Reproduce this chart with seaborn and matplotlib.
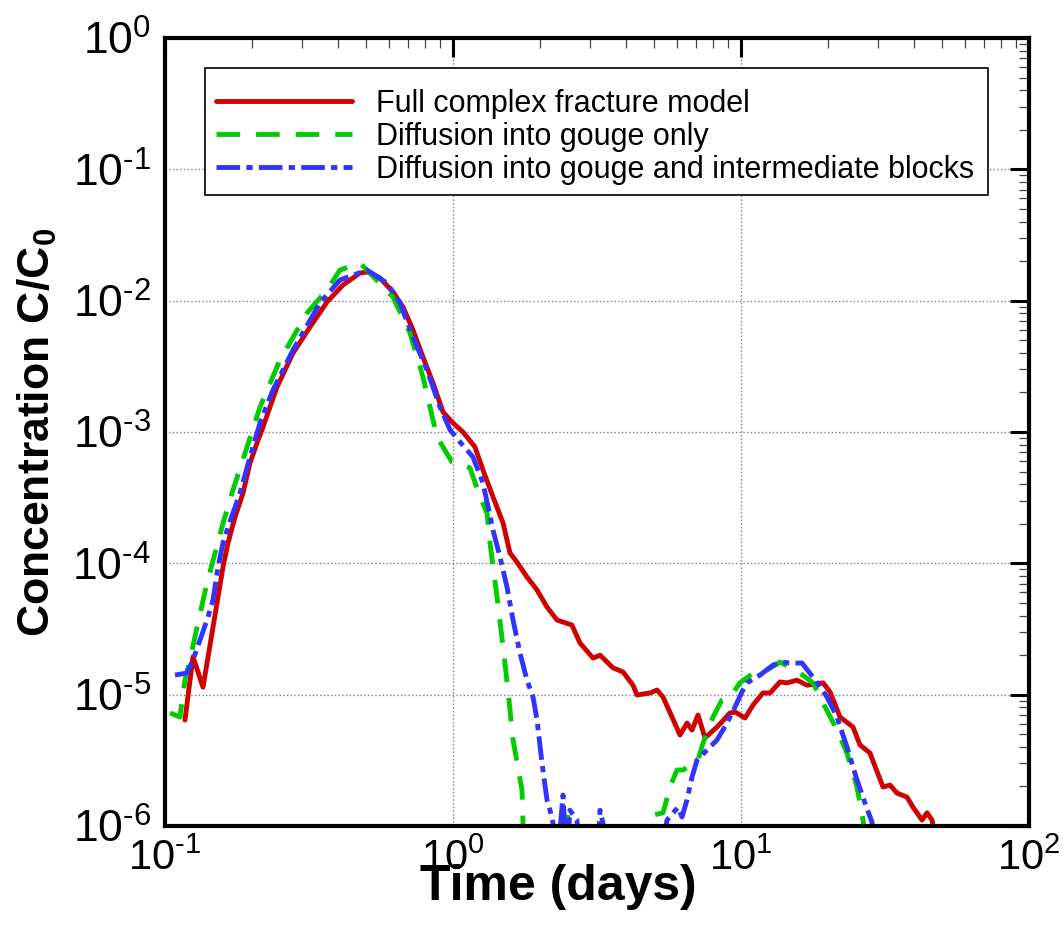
import numpy as np
import pandas as pd
import matplotlib
matplotlib.use("Agg")
import matplotlib.pyplot as plt
import seaborn as sns
from matplotlib.ticker import LogLocator, NullFormatter, FuncFormatter

# ---------------- data ----------------
full_t = [0.1173, 0.1251, 0.1355, 0.1468, 0.1590, 0.1655, 0.1750, 0.1866, 0.1973, 0.2087,
          0.2189, 0.2448, 0.2783, 0.3188, 0.3652, 0.4150, 0.4753, 0.5068, 0.5578, 0.6189,
          0.6705, 0.7262, 0.7866, 0.8524, 0.9232, 1.000, 1.083, 1.192, 1.271, 1.377,
          1.492, 1.577, 1.668, 1.807, 1.958, 2.120, 2.297, 2.588, 2.761, 3.064,
          3.239, 3.594, 3.893, 4.217, 4.355, 4.831, 5.109, 5.360, 5.760, 6.140,
          6.494, 6.760, 7.092, 7.499, 8.254, 9.158, 9.532, 10.33, 11.01, 11.92,
          12.61, 13.66, 14.45, 15.64, 16.95, 19.27, 20.37, 22.07, 24.48, 25.89,
          28.05, 31.12, 32.92, 34.81, 37.71, 39.56, 42.52, 44.25, 46.06, 49.09]
full_c = [6.41e-6, 1.94e-5, 1.14e-5, 3.27e-5, 9.38e-5, 1.43e-4, 2.25e-4, 3.43e-4, 5.80e-4, 8.24e-4,
          1.09e-3, 2.20e-3, 3.99e-3, 6.30e-3, 9.77e-3, 1.316e-2, 1.624e-2, 1.653e-2, 1.488e-2, 1.164e-2,
          8.95e-3, 5.98e-3, 3.72e-3, 2.36e-3, 1.42e-3, 1.17e-3, 1.00e-3, 7.69e-4, 5.14e-4, 3.20e-4,
          2.03e-4, 1.20e-4, 1.02e-4, 7.87e-5, 6.26e-5, 4.65e-5, 3.70e-5, 3.39e-5, 2.47e-5, 1.90e-5,
          2.00e-5, 1.60e-5, 1.49e-5, 1.18e-5, 9.94e-6, 1.03e-5, 1.085e-5, 9.60e-6, 6.76e-6, 4.93e-6,
          6.08e-6, 5.38e-6, 7.00e-6, 4.68e-6, 5.67e-6, 7.25e-6, 7.38e-6, 6.64e-6, 8.34e-6, 1.03e-5,
          1.03e-5, 1.25e-5, 1.23e-5, 1.29e-5, 1.18e-5, 1.23e-5, 1.05e-5, 6.76e-6, 5.67e-6, 4.14e-6,
          3.59e-6, 1.98e-6, 2.05e-6, 1.78e-6, 1.66e-6, 1.39e-6, 1.11e-6, 1.26e-6, 1.11e-6, 5.0e-7]

gouge_t = [0.1041, 0.1127, 0.1173, 0.1221, 0.1292, 0.1399, 0.1577, 0.1708, 0.1927, 0.2137,
           0.2506, 0.3112, 0.3652, 0.4052, 0.4753, 0.6189, 0.7090, 0.7866, 0.8799, 0.9920,
           1.0575, 1.146, 1.241, 1.313, 1.344, 1.422, 1.492, 1.552, 1.616, 1.736,
           1.750, 1.807, 2.45, 2.506, 2.56, 3.38, 3.425, 3.47, 4.60, 4.717,
           4.948, 5.360, 5.669, 5.995, 6.289, 7.092, 7.382, 7.994, 8.590, 9.158,
           9.920, 11.01, 12.31, 13.66, 14.80, 16.03, 17.78, 19.27, 21.54, 23.34,
           25.28, 26.52, 27.5]
gouge_c = [7.25e-6, 6.76e-6, 1.29e-5, 1.84e-5, 3.27e-5, 7.08e-5, 1.89e-4, 3.43e-4, 7.69e-4, 1.55e-3,
           3.53e-3, 8.05e-3, 1.206e-2, 1.712e-2, 1.936e-2, 1.066e-2, 5.67e-3, 2.62e-3, 9.16e-4, 5.91e-4,
           5.80e-4, 5.32e-4, 3.20e-4, 2.42e-4, 1.43e-4, 5.54e-5, 2.31e-5, 1.085e-5, 4.52e-6, 1.88e-6,
           1.05e-6, 5.0e-7, 5.0e-7, 1.17e-6, 5.0e-7, 5.0e-7, 1.06e-6, 5.0e-7, 5.0e-7, 1.05e-6,
           1.21e-6, 1.26e-6, 1.98e-6, 2.67e-6, 2.67e-6, 3.18e-6, 4.28e-6, 6.76e-6, 9.10e-6, 9.60e-6,
           1.23e-5, 1.46e-5, 1.54e-5, 1.77e-5, 1.62e-5, 1.46e-5, 1.23e-5, 8.64e-6, 5.38e-6, 3.59e-6,
           1.98e-6, 1.11e-6, 5.0e-7]

inter_t = [0.1083, 0.1192, 0.1251, 0.1323, 0.1399, 0.1468, 0.1528, 0.1590, 0.1655, 0.1822,
           0.1973, 0.2137, 0.2371, 0.2783, 0.3453, 0.4052, 0.5028, 0.5900, 0.6546, 0.7262,
           0.8121, 0.9013, 0.9763, 1.0575, 1.173, 1.271, 1.377, 1.456, 1.540, 1.616,
           1.708, 1.807, 1.896, 1.958, 2.037, 2.120, 2.172, 2.225, 2.297, 2.410,
           2.480, 2.547, 2.694, 2.761, 3.18, 3.239, 3.318, 3.40, 5.20, 5.534,
           6.043, 6.239, 6.494, 6.760, 7.036, 7.619, 8.254, 8.942, 9.532, 10.08,
           10.49, 11.64, 12.92, 13.99, 14.80, 16.29, 17.78, 19.89, 21.54, 23.34,
           25.28, 26.94, 28.50, 29.5]
inter_c = [1.41e-5, 1.46e-5, 1.84e-5, 2.61e-5, 3.70e-5, 5.26e-5, 9.38e-5, 1.43e-4, 1.89e-4, 3.43e-4,
           6.45e-4, 1.17e-3, 2.09e-3, 4.21e-3, 9.60e-3, 1.437e-2, 1.712e-2, 1.363e-2, 9.60e-3, 5.29e-3,
           2.96e-3, 1.55e-3, 1.04e-3, 8.39e-4, 6.45e-4, 4.09e-4, 1.79e-4, 1.12e-4, 6.60e-5, 3.70e-5,
           2.08e-5, 1.29e-5, 9.60e-6, 6.41e-6, 3.02e-6, 1.58e-6, 1.32e-6, 1.05e-6, 5.0e-7, 1.72e-6,
           5.0e-7, 1.32e-6, 1.11e-6, 5.0e-7, 5.0e-7, 1.32e-6, 1.05e-6, 5.0e-7, 5.0e-7, 1.11e-6,
           1.39e-6, 1.17e-6, 1.58e-6, 2.36e-6, 3.18e-6, 3.79e-6, 4.52e-6, 6.08e-6, 8.05e-6, 1.05e-5,
           1.23e-5, 1.41e-5, 1.68e-5, 1.77e-5, 1.74e-5, 1.74e-5, 1.36e-5, 9.60e-6, 6.76e-6, 3.99e-6,
           2.24e-6, 1.50e-6, 1.07e-6, 5.0e-7]

series_labels = ["Full complex fracture model",
                 "Diffusion into gouge only",
                 "Diffusion into gouge and intermediate blocks"]
x_ticks = [0.1, 1, 10, 100]
y_ticks = [1e-6, 1e-5, 1e-4, 1e-3, 1e-2, 1e-1, 1]
x_label = "Time (days)"
y_label = r"Concentration C/C$_\mathbf{0}$"

# ---------------- styling ----------------
sns.set_style("white")
plt.rcParams['font.family'] = ['Liberation Sans', 'DejaVu Sans']
plt.rcParams['mathtext.fontset'] = 'custom'
plt.rcParams['mathtext.rm'] = 'Liberation Sans'
plt.rcParams['mathtext.it'] = 'Liberation Sans:italic'
plt.rcParams['mathtext.bf'] = 'Liberation Sans:bold'
plt.rcParams['mathtext.default'] = 'regular'
plt.rcParams['axes.unicode_minus'] = False
plt.rcParams['lines.scale_dashes'] = False
for k in ['text.color', 'axes.labelcolor', 'xtick.color', 'ytick.color', 'axes.edgecolor']:
    plt.rcParams[k] = 'black'

W, H = 1064, 934
fig = plt.figure(figsize=(W / 100, H / 100), dpi=100)
L, R, T, B = 165, 1029, 38, 826
ax = fig.add_axes([L / W, (H - B) / H, (R - L) / W, (B - T) / H])

colors = ['#D00000', '#00CC00', '#3333FF']
styles = ['-', (0, (17, 11.5)), (0, (17, 4.5, 4.5, 4.5))]
lw = 3.5
for t, c, lab, col, ls in zip([full_t, gouge_t, inter_t], [full_c, gouge_c, inter_c],
                              series_labels, colors, styles):
    df = pd.DataFrame({"t": t, "c": c})
    sns.lineplot(data=df, x="t", y="c", ax=ax, sort=False, estimator=None,
                 color=col, linewidth=lw, label=lab)
    ax.lines[-1].set_linestyle(ls)

ax.set_xscale('log')
ax.set_yscale('log')
ax.set_xlim(0.1, 100)
ax.set_ylim(1e-6, 1)
ax.set_xticks(x_ticks)
ax.set_yticks(y_ticks)


def pow_fmt(v, pos):
    e = int(round(np.log10(v)))
    if e < 0:
        return r"$\mathdefault{10^{\text{-}%d}}$" % (-e)
    return r"$\mathdefault{10^{%d}}$" % e


ax.xaxis.set_major_formatter(FuncFormatter(pow_fmt))
ax.yaxis.set_major_formatter(FuncFormatter(pow_fmt))
ax.xaxis.set_minor_locator(LogLocator(base=10, subs=np.arange(2, 10), numticks=100))
ax.yaxis.set_minor_locator(LogLocator(base=10, subs=np.arange(2, 10), numticks=100))
ax.xaxis.set_minor_formatter(NullFormatter())
ax.yaxis.set_minor_formatter(NullFormatter())

ax.grid(True, which='major', linestyle=':', color='#808080', linewidth=1.0)
ax.set_axisbelow(True)
for s in ax.spines.values():
    s.set_linewidth(3.0)
    s.set_color('black')

ax.tick_params(which='major', direction='in', length=14, width=2.2, top=True, right=True,
               color='black')
ax.tick_params(which='minor', direction='in', length=7, width=0.9, top=True, right=True,
               color='#444444')
ax.tick_params(axis='x', which='major', labelsize=30, pad=9)
ax.tick_params(axis='y', which='major', labelsize=32, pad=10)

ax.set_xlabel(x_label, fontsize=36, fontweight='bold')
ax.set_ylabel(y_label, fontsize=32, fontweight='bold')
ax.xaxis.set_label_coords(0.455, (B - 864) / (B - T))
ax.yaxis.set_label_coords((59 - L) / (R - L), 0.5)

leg = ax.legend(loc='upper left', bbox_to_anchor=(0.0463, 0.962, 0.906, 0.0), mode='expand',
                fontsize=22, frameon=True, fancybox=False, edgecolor='black', framealpha=1,
                handlelength=4.45, handletextpad=0.8, borderpad=0.35, labelspacing=0.1,
                borderaxespad=0, title=' ', title_fontsize=6)
leg.get_frame().set_linewidth(1.2)

fig.savefig("out.png", dpi=100)
